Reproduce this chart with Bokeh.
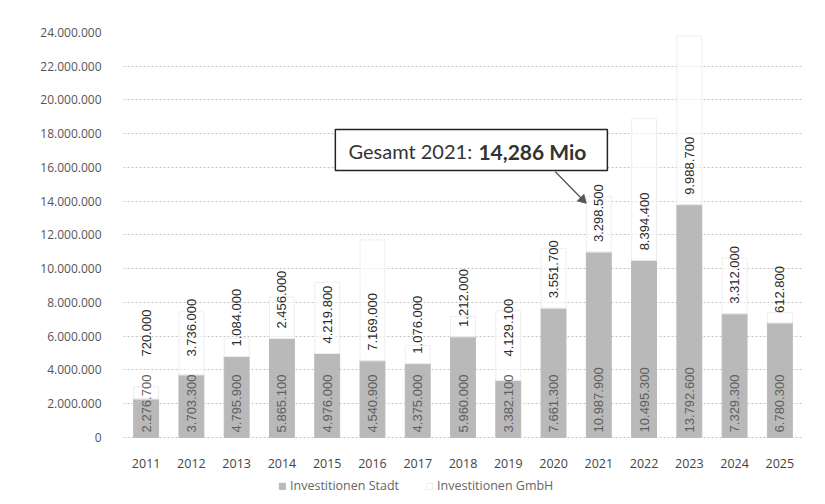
import numpy as np
from bokeh.plotting import figure
from bokeh.models import ColumnDataSource, FixedTicker, Legend, LegendItem
from bokeh.transform import dodge
from bokeh.core.properties import value
from bokeh.embed import file_html
from bokeh.resources import INLINE

years = ["2011", "2012", "2013", "2014", "2015", "2016", "2017", "2018",
         "2019", "2020", "2021", "2022", "2023", "2024", "2025"]
stadt = [2276700, 3703300, 4795900, 5865100, 4976000, 4540900, 4375000, 5960000,
         3382100, 7661300, 10987900, 10495300, 13792600, 7329300, 6780300]
gmbh = [720000, 3736000, 1084000, 2456000, 4219800, 7169000, 1076000, 1212000,
        4129100, 3551700, 3298500, 8394400, 9988700, 3312000, 612800]
y_ticks = [0, 2000000, 4000000, 6000000, 8000000, 10000000, 12000000,
           14000000, 16000000, 18000000, 20000000, 22000000, 24000000]
series_names = ["Investitionen Stadt", "Investitionen GmbH"]
callout_year = "2021"


def de(v):
    return f"{v:,}".replace(",", ".")


stadt_lbl = [de(v) for v in stadt]
gmbh_lbl = [de(v) for v in gmbh]
anchor = list(np.maximum(np.array(stadt), 4.2e6))

src = ColumnDataSource(dict(year=years, stadt=stadt, gmbh=gmbh,
                            stadt_lbl=stadt_lbl, gmbh_lbl=gmbh_lbl,
                            zero=[0] * len(years), anchor=anchor))

# the space below zero holds the year labels and the legend
p = figure(x_range=years, y_range=(-3.5e6, 24000000), width=809, height=496,
           output_backend="svg", toolbar_location=None,
           min_border_left=123, min_border_right=7, min_border_top=32,
           min_border_bottom=0, outline_line_color=None,
           background_fill_color="white", border_fill_color="white")

p.xgrid.grid_line_color = None
p.ygrid.grid_line_color = "#c4c4c4"
p.ygrid.grid_line_dash = "2 2"
p.ygrid.grid_line_width = 1

rs = p.vbar_stack(["stadt", "gmbh"], x="year", width=0.55, source=src,
                  fill_color=["#b9b9b9", "#ffffff"],
                  line_color=["#b9b9b9", "#eeeeee"], line_width=1,
                  fill_alpha=[1.0, 0.6])

# value labels
p.text(x="year", y="zero", text="stadt_lbl", source=src, angle=np.pi / 2,
       text_align="left", text_baseline="middle", y_offset=-5,
       text_font=value("Liberation Sans"), text_font_size="13px",
       text_color="#5e5e5e")
p.text(x="year", y="anchor", text="gmbh_lbl", source=src, angle=np.pi / 2,
       text_align="left", text_baseline="middle", y_offset=-10,
       text_font=value("Liberation Sans"), text_font_size="13px",
       text_color="#2a2a2a")

# year labels (category axis)
p.text(x="year", y="zero", text="year", source=src, y_offset=26,
       text_align="center", text_baseline="middle",
       text_font=value("Open Sans"), text_font_size="12.5px",
       text_color="#444444")
p.xaxis.visible = False

# y axis
p.yaxis.ticker = FixedTicker(ticks=y_ticks)
p.yaxis.major_label_overrides = {t: de(t) for t in y_ticks}
p.yaxis.major_label_text_font = "Open Sans"
p.yaxis.major_label_text_font_size = "12px"
p.yaxis.major_label_text_color = "#555555"
p.yaxis.major_label_standoff = 16
p.yaxis.axis_line_color = None
p.yaxis.major_tick_line_color = None
p.yaxis.minor_tick_line_color = None

# callout for the selected year (positions relative to that year's bar)
i21 = years.index(callout_year)
total21 = stadt[i21] + gmbh[i21]
csrc = ColumnDataSource(dict(x=[callout_year],
                             t1=[f"Gesamt {callout_year}:"],
                             t2=[f"{total21 / 1e6:.3f}".replace(".", ",") + " Mio"]))
p.segment(x0=dodge("x", -0.96, range=p.x_range), y0=15.75e6,
          x1=dodge("x", -0.36, range=p.x_range), y1=14.1e6,
          source=csrc, line_color="#555555", line_width=1.3)
p.scatter(x=dodge("x", -0.36, range=p.x_range), y=14.1e6, source=csrc,
          marker="triangle", size=9, angle=-135, angle_units="deg",
          fill_color="#555555", line_color="#555555")
p.rect(x=dodge("x", -2.815, range=p.x_range), y=17.04e6, width=6.01,
       height=2.43e6, source=csrc, fill_color="white", line_color="#222222",
       line_width=1.5)
p.text(x=dodge("x", -5.53, range=p.x_range), y=16.95e6, text="t1", source=csrc,
       text_font=value("Lato"), text_font_size="20px", text_color="#333333",
       text_baseline="middle", text_align="left")
p.text(x=dodge("x", -2.66, range=p.x_range), y=16.95e6, text="t2", source=csrc,
       text_font=value("Lato"), text_font_size="21px", text_font_style="bold",
       text_color="#333333", text_baseline="middle", text_align="left")

legend = Legend(items=[LegendItem(label=series_names[0], renderers=[rs[0]]),
                       LegendItem(label=series_names[1], renderers=[rs[1]])],
                orientation="horizontal", location=(155, 2),
                label_text_font="Open Sans", label_text_font_size="12.5px",
                label_text_color="#666666", glyph_width=8, glyph_height=8,
                label_height=14, spacing=26, border_line_color=None,
                background_fill_alpha=0, padding=1, margin=0,
                label_standoff=4)
p.add_layout(legend)

open("out.html", "w").write(file_html(p, INLINE))
